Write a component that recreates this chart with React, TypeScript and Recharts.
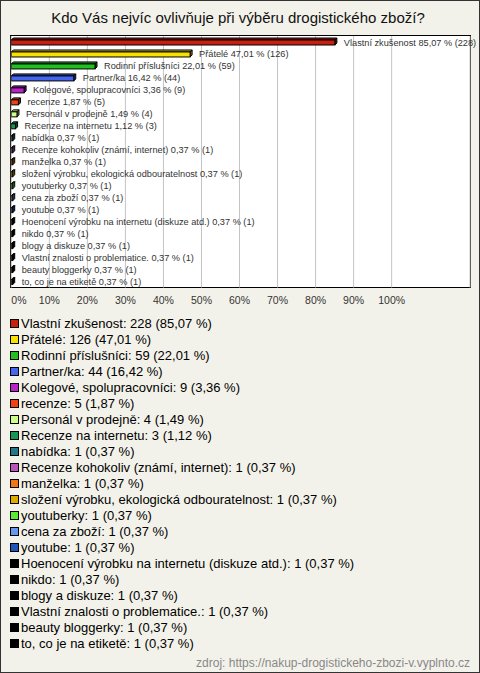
import React from 'react';
import { BarChart, Bar, XAxis, YAxis, CartesianGrid, LabelList } from 'recharts';

const categories = [
  'Vlastní zkušenost',
  'Přátelé',
  'Rodinní příslušníci',
  'Partner/ka',
  'Kolegové, spolupracovníci',
  'recenze',
  'Personál v prodejně',
  'Recenze na internetu',
  'nabídka',
  'Recenze kohokoliv (známí, internet)',
  'manželka',
  'složení výrobku, ekologická odbouratelnost',
  'youtuberky',
  'cena za zboží',
  'youtube',
  'Hoenocení výrobku na internetu (diskuze atd.)',
  'nikdo',
  'blogy a diskuze',
  'Vlastní znalosti o problematice.',
  'beauty bloggerky',
  'to, co je na etiketě',
];

const counts = [228, 126, 59, 44, 9, 5, 4, 3, 1, 1, 1, 1, 1, 1, 1, 1, 1, 1, 1, 1, 1];
const percents = [85.07, 47.01, 22.01, 16.42, 3.36, 1.87, 1.49, 1.12, 0.37, 0.37, 0.37, 0.37, 0.37, 0.37, 0.37, 0.37, 0.37, 0.37, 0.37, 0.37, 0.37];
const colors = [
  '#c8200e', '#f8e000', '#20c020', '#4466ee', '#bb22cc', '#ee4411', '#ccff88',
  '#119955', '#227788', '#bb55bb', '#ee7711', '#ddaa00', '#55ee33', '#6699ee',
  '#2255bb', '#000000', '#000000', '#000000', '#000000', '#000000', '#000000',
];
const xTicks = [0, 10, 20, 30, 40, 50, 60, 70, 80, 90, 100];

const FONT = "'Liberation Sans', Arial, sans-serif";
const fmt = (p: number) => p.toFixed(2).replace('.', ',');

const data = categories.map((name, i) => ({
  name,
  value: percents[i],
  count: counts[i],
  color: colors[i],
  label: `${name} ${fmt(percents[i])} % (${counts[i]})`,
}));

const shade = (hex: string, f: number) => {
  const n = parseInt(hex.slice(1), 16);
  const r = Math.round(((n >> 16) & 255) * f);
  const g = Math.round(((n >> 8) & 255) * f);
  const b = Math.round((n & 255) * f);
  return `rgb(${r},${g},${b})`;
};

const Bar3D = (props: any) => {
  const { x, y, width, height, payload } = props;
  const d = 2;
  const c = payload.color;
  const w = Math.max(width, 0);
  return (
    <g>
      <polygon
        points={`${x},${y + d} ${x + d},${y} ${x + w + d},${y} ${x + w},${y + d}`}
        fill={shade(c, 0.8)}
        stroke="#000"
        strokeWidth={1}
      />
      <polygon
        points={`${x + w},${y + d} ${x + w + d},${y} ${x + w + d},${y + height - d} ${x + w},${y + height}`}
        fill={shade(c, 0.55)}
        stroke="#000"
        strokeWidth={1}
      />
      <rect x={x} y={y + d} width={w} height={height - d} fill={c} stroke="#000" strokeWidth={1} />
    </g>
  );
};

const renderLabel = (props: any) => {
  const { x, y, width, height, value } = props;
  return (
    <text
      x={Number(x) + Number(width) + 9}
      y={Number(y) + Number(height) / 2 + 1}
      dominantBaseline="central"
      fontSize={9.2}
      fontFamily={FONT}
      fill="#333"
    >
      {value}
    </text>
  );
};

const Tick = (props: any) => {
  const { x, y, payload } = props;
  return (
    <text
      x={x}
      y={y}
      dy={8}
      textAnchor={payload.value === 0 ? 'start' : 'middle'}
      fontSize={10.5}
      fontFamily={FONT}
      fill="#333"
    >
      {`${payload.value}%`}
    </text>
  );
};

export default function App() {
  return (
    <div
      style={{
        position: 'absolute',
        left: 0,
        top: 0,
        width: 480,
        height: 673,
        background: '#f3f2ea',
        boxShadow: 'inset 0 0 0 1px #333',
        fontFamily: FONT,
        overflow: 'hidden',
      }}
    >
      <div
        style={{
          position: 'absolute',
          left: 0,
          top: 9,
          width: 476,
          textAlign: 'center',
          fontSize: 15,
          lineHeight: '18px',
          color: '#111',
          whiteSpace: 'nowrap',
        }}
      >
        Kdo Vás nejvíc ovlivňuje při výběru drogistického zboží?
      </div>
      <div
        style={{
          position: 'absolute',
          left: 10,
          top: 35,
          width: 461,
          height: 253,
          boxSizing: 'border-box',
          border: '1px solid #000',
          background: '#fff',
        }}
      />
      <div style={{ position: 'absolute', left: 0, top: 0 }}>
        <BarChart
          width={480}
          height={310}
          layout="vertical"
          data={data}
          margin={{ top: 36, right: 10, left: 11.3, bottom: 0 }}
          barCategoryGap={0}
        >
          <CartesianGrid horizontal={false} stroke="#c4c4c4" />
          <XAxis
            type="number"
            dataKey="value"
            domain={[0, 120.6]}
            ticks={xTicks}
            axisLine={false}
            tickLine={false}
            tick={<Tick />}
            height={22.5}
            interval={0}
            allowDataOverflow
          />
          <YAxis type="category" dataKey="name" hide />
          <Bar dataKey="value" barSize={7} shape={<Bar3D />} isAnimationActive={false}>
            <LabelList dataKey="label" content={renderLabel} />
          </Bar>
        </BarChart>
      </div>
      <div style={{ position: 'absolute', left: 10, top: 315, fontSize: 13, color: '#000' }}>
        {data.map((d) => (
          <div
            key={d.name}
            style={{ display: 'flex', alignItems: 'center', height: 16, whiteSpace: 'nowrap' }}
          >
            <span
              style={{
                display: 'inline-block',
                width: 7,
                height: 7,
                border: '1px solid #000',
                background: d.color,
                marginRight: 2,
                flex: 'none',
              }}
            />
            {`${d.name}: ${d.count} (${fmt(d.value)} %)`}
          </div>
        ))}
      </div>
      <div
        style={{
          position: 'absolute',
          right: 10,
          top: 656,
          fontSize: 12,
          color: '#888',
          whiteSpace: 'nowrap',
        }}
      >
        zdroj: https://nakup-drogistickeho-zbozi-v.vyplnto.cz
      </div>
    </div>
  );
}
